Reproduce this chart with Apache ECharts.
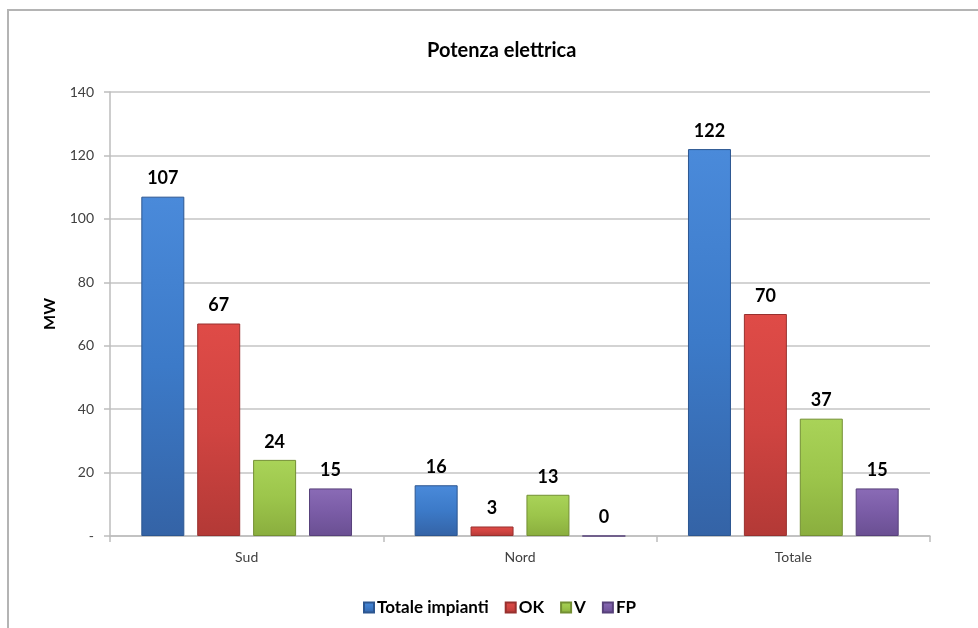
<!DOCTYPE html>
<html>
<head>
<meta charset="utf-8">
<style>
  html, body { margin: 0; padding: 0; background: #ffffff; }
  #chart { width: 978px; height: 628px; }
</style>
<script src="https://cdn.jsdelivr.net/npm/echarts@6/dist/echarts.min.js"></script>
</head>
<body>
<div id="chart"></div>
<script>
// Electric power (MW) by area
const categories = ['Sud', 'Nord', 'Totale'];
const seriesNames = ['Totale impianti', 'OK', 'V', 'FP'];
const totaleImpianti = [107, 16, 122];
const ok = [67, 3, 70];
const v = [24, 13, 37];
const fp = [15, 0, 15];
const yTicks = [0, 20, 40, 60, 80, 100, 120, 140];

const FONT = 'Lato, "Open Sans", sans-serif';

// bevelled bar fills: [top, middle, bottom, edge]
const palette = [
  ['#4a8ada', '#3c7ac8', '#3463a6', '#2c5690'],
  ['#df4b47', '#d04441', '#b33936', '#98302e'],
  ['#a9d358', '#9cc54b', '#8aae3e', '#738f33'],
  ['#8a6bb6', '#7a5ca6', '#6a4f92', '#57417a']
];

function barFill(c) {
  return {
    type: 'linear', x: 0, y: 0, x2: 0, y2: 1,
    colorStops: [
      { offset: 0, color: c[0] },
      { offset: 0.5, color: c[1] },
      { offset: 1, color: c[2] }
    ]
  };
}

const values = [totaleImpianti, ok, v, fp];

const chart = echarts.init(document.getElementById('chart'), null, { renderer: 'canvas' });

chart.setOption({
  backgroundColor: '#ffffff',
  animation: false,
  graphic: [{
    type: 'rect',
    shape: { x: 8, y: 10, width: 1200, height: 900 },
    style: { fill: 'none', stroke: '#b4b4b4', lineWidth: 2 },
    silent: true
  }],
  title: {
    text: 'Potenza elettrica',
    left: 422,
    top: 36,
    textStyle: { fontFamily: FONT, fontSize: 20, fontWeight: 'bold', color: '#000000' }
  },
  legend: {
    data: seriesNames,
    left: 358,
    top: 594,
    itemWidth: 10,
    itemHeight: 10,
    itemGap: 16,
    icon: 'rect',
    textStyle: { fontFamily: FONT, fontSize: 17, fontWeight: 'bold', color: '#000000', padding: [0, 0, 0, -2] }
  },
  grid: { left: 110, right: 48, top: 92, bottom: 92, containLabel: false },
  xAxis: {
    type: 'category',
    data: categories,
    axisLine: { show: true, lineStyle: { color: '#bdbdbd', width: 1.5 } },
    axisTick: { show: true, alignWithLabel: false, length: 6, lineStyle: { color: '#bdbdbd', width: 1.5 } },
    axisLabel: { fontFamily: FONT, fontSize: 14, color: '#404040', margin: 14 }
  },
  yAxis: {
    type: 'value',
    min: yTicks[0],
    max: yTicks[yTicks.length - 1],
    interval: yTicks[1] - yTicks[0],
    name: 'MW',
    nameLocation: 'middle',
    nameGap: 52,
    nameTextStyle: { fontFamily: FONT, fontSize: 16, fontWeight: 'bold', color: '#000000' },
    axisLine: { show: true, lineStyle: { color: '#bdbdbd', width: 1.5 } },
    axisTick: { show: true, length: 6, lineStyle: { color: '#bdbdbd', width: 1.5 } },
    axisLabel: {
      fontFamily: FONT, fontSize: 14, color: '#404040', margin: 16,
      formatter: val => (val === 0 ? '-' : String(val))
    },
    splitLine: { show: true, lineStyle: { color: '#c4c4c4', width: 1.5 } }
  },
  series: seriesNames.map((name, i) => ({
    name: name,
    type: 'bar',
    data: values[i],
    barWidth: 43,
    barGap: '30%',
    itemStyle: {
      color: barFill(palette[i]),
      borderColor: palette[i][3],
      borderWidth: 1
    },
    label: {
      show: true,
      position: 'top',
      distance: 9,
      fontFamily: FONT,
      fontSize: 18,
      fontWeight: 'bold',
      color: '#000000'
    }
  }))
});
</script>
</body>
</html>
